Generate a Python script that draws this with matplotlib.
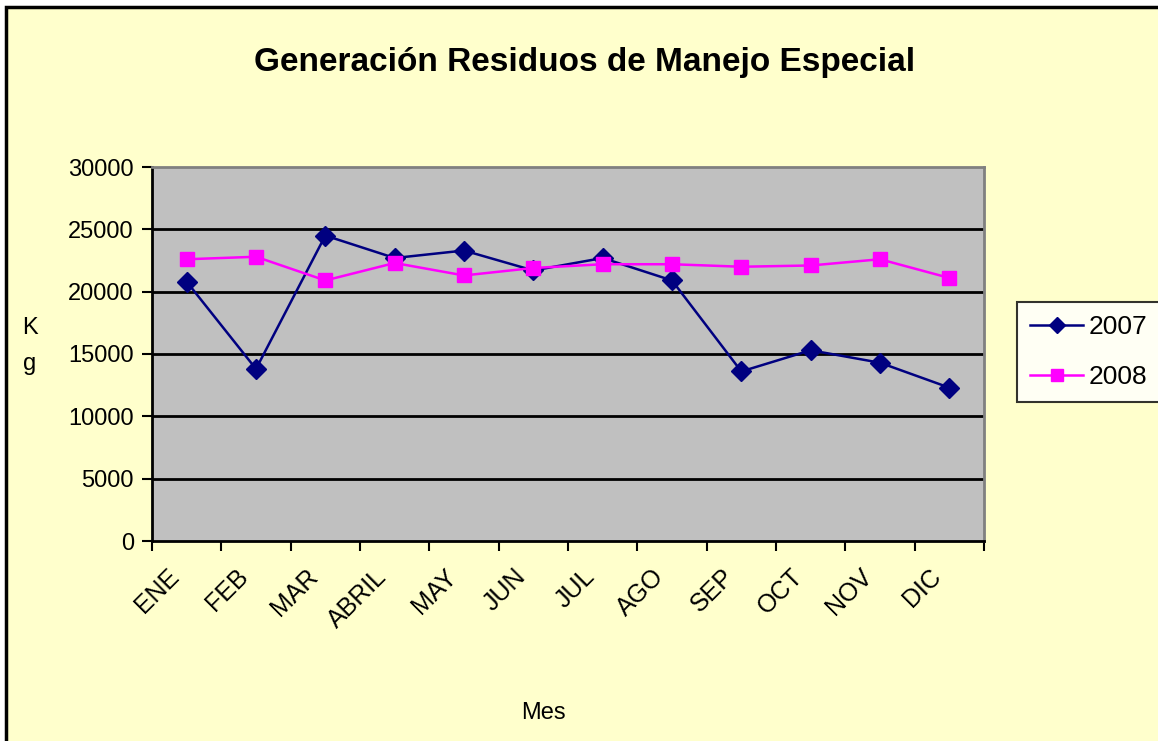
import matplotlib.pyplot as plt
import matplotlib.transforms as mtransforms
from matplotlib.patches import Rectangle

# datos
meses = ['ENE', 'FEB', 'MAR', 'ABRIL', 'MAY', 'JUN', 'JUL', 'AGO', 'SEP', 'OCT', 'NOV', 'DIC']
kg_2007 = [20800, 13800, 24500, 22700, 23300, 21700, 22700, 20900, 13600, 15300, 14300, 12300]
kg_2008 = [22600, 22800, 20900, 22300, 21300, 21900, 22200, 22200, 22000, 22100, 22600, 21100]
yticks = [0, 5000, 10000, 15000, 20000, 25000, 30000]

plt.rcParams['font.family'] = ['Liberation Sans', 'DejaVu Sans']

W, H = 1158, 741
fig = plt.figure(figsize=(W / 100, H / 100), dpi=100, facecolor='white')

# fondo amarillo con borde negro (solo arriba e izquierda visibles)
fig.patches.append(Rectangle((6 / W, -0.05), 1.1, 1 - 7 / H + 0.05, transform=fig.transFigure,
                             facecolor='#FFFFCC', edgecolor='black', linewidth=2.5, zorder=-5))

ax = fig.add_axes([152 / W, 1 - 541 / H, (984 - 152) / W, (541 - 167) / H])
ax.set_zorder(2)
ax.set_facecolor('#C0C0C0')

x = list(range(len(meses)))
ax.plot(x, kg_2007, color='#000080', marker='D', markersize=10, linewidth=1.8, label='2007', zorder=3)
ax.plot(x, kg_2008, color='#FF00FF', marker='s', markersize=10, linewidth=1.8, label='2008', zorder=3)

ax.set_xlim(-0.5, len(meses) - 0.5)
ax.set_ylim(0, 30000)
ax.set_yticks(yticks)
ax.set_yticklabels([str(v) for v in yticks], fontsize=17)
for v in yticks[1:-1]:
    ax.axhline(v, color='black', linewidth=2, zorder=1)

# marcas entre categorias, etiquetas en el centro
ax.set_xticks([i - 0.5 for i in range(len(meses) + 1)])
ax.set_xticklabels([])
ax.set_xticks(x, minor=True)
ax.set_xticklabels(meses, minor=True, rotation=45, ha='right', va='top',
                   rotation_mode='anchor', fontsize=18)
ax.tick_params(axis='x', which='minor', length=0, pad=17)
ax.tick_params(axis='x', which='major', length=7, width=1.5, direction='out')
ax.tick_params(axis='y', length=7, width=1.5, direction='out', pad=6)
desp = mtransforms.ScaledTranslation(-20 / 100, 0, fig.dpi_scale_trans)
for lab in ax.get_xticklabels(minor=True):
    lab.set_transform(lab.get_transform() + desp)

for s in ['left', 'bottom']:
    ax.spines[s].set_color('black')
    ax.spines[s].set_linewidth(2)
for s in ['top', 'right']:
    ax.spines[s].set_color('#808080')
    ax.spines[s].set_linewidth(2)

fig.text(585 / W, 1 - 62 / H, 'Generación Residuos de Manejo Especial',
         ha='center', va='center', fontsize=24, fontweight='bold')
fig.text(30 / W, 1 - 346 / H, 'K\ng', ha='center', va='center', fontsize=17, linespacing=1.8)
fig.text(543 / W, 1 - 713 / H, 'Mes', ha='center', va='center', fontsize=17)

leg = fig.legend(loc='center left', bbox_to_anchor=(1017 / W, 1 - 352 / H), fontsize=19,
                 frameon=True, fancybox=False, edgecolor='black', facecolor='white',
                 handlelength=2.0, handletextpad=0.2, borderpad=0.5, labelspacing=1.0,
                 borderaxespad=0, markerscale=0.8)
leg.get_frame().set_linewidth(1.5)

fig.savefig('out.png', dpi=100, facecolor=fig.get_facecolor())
